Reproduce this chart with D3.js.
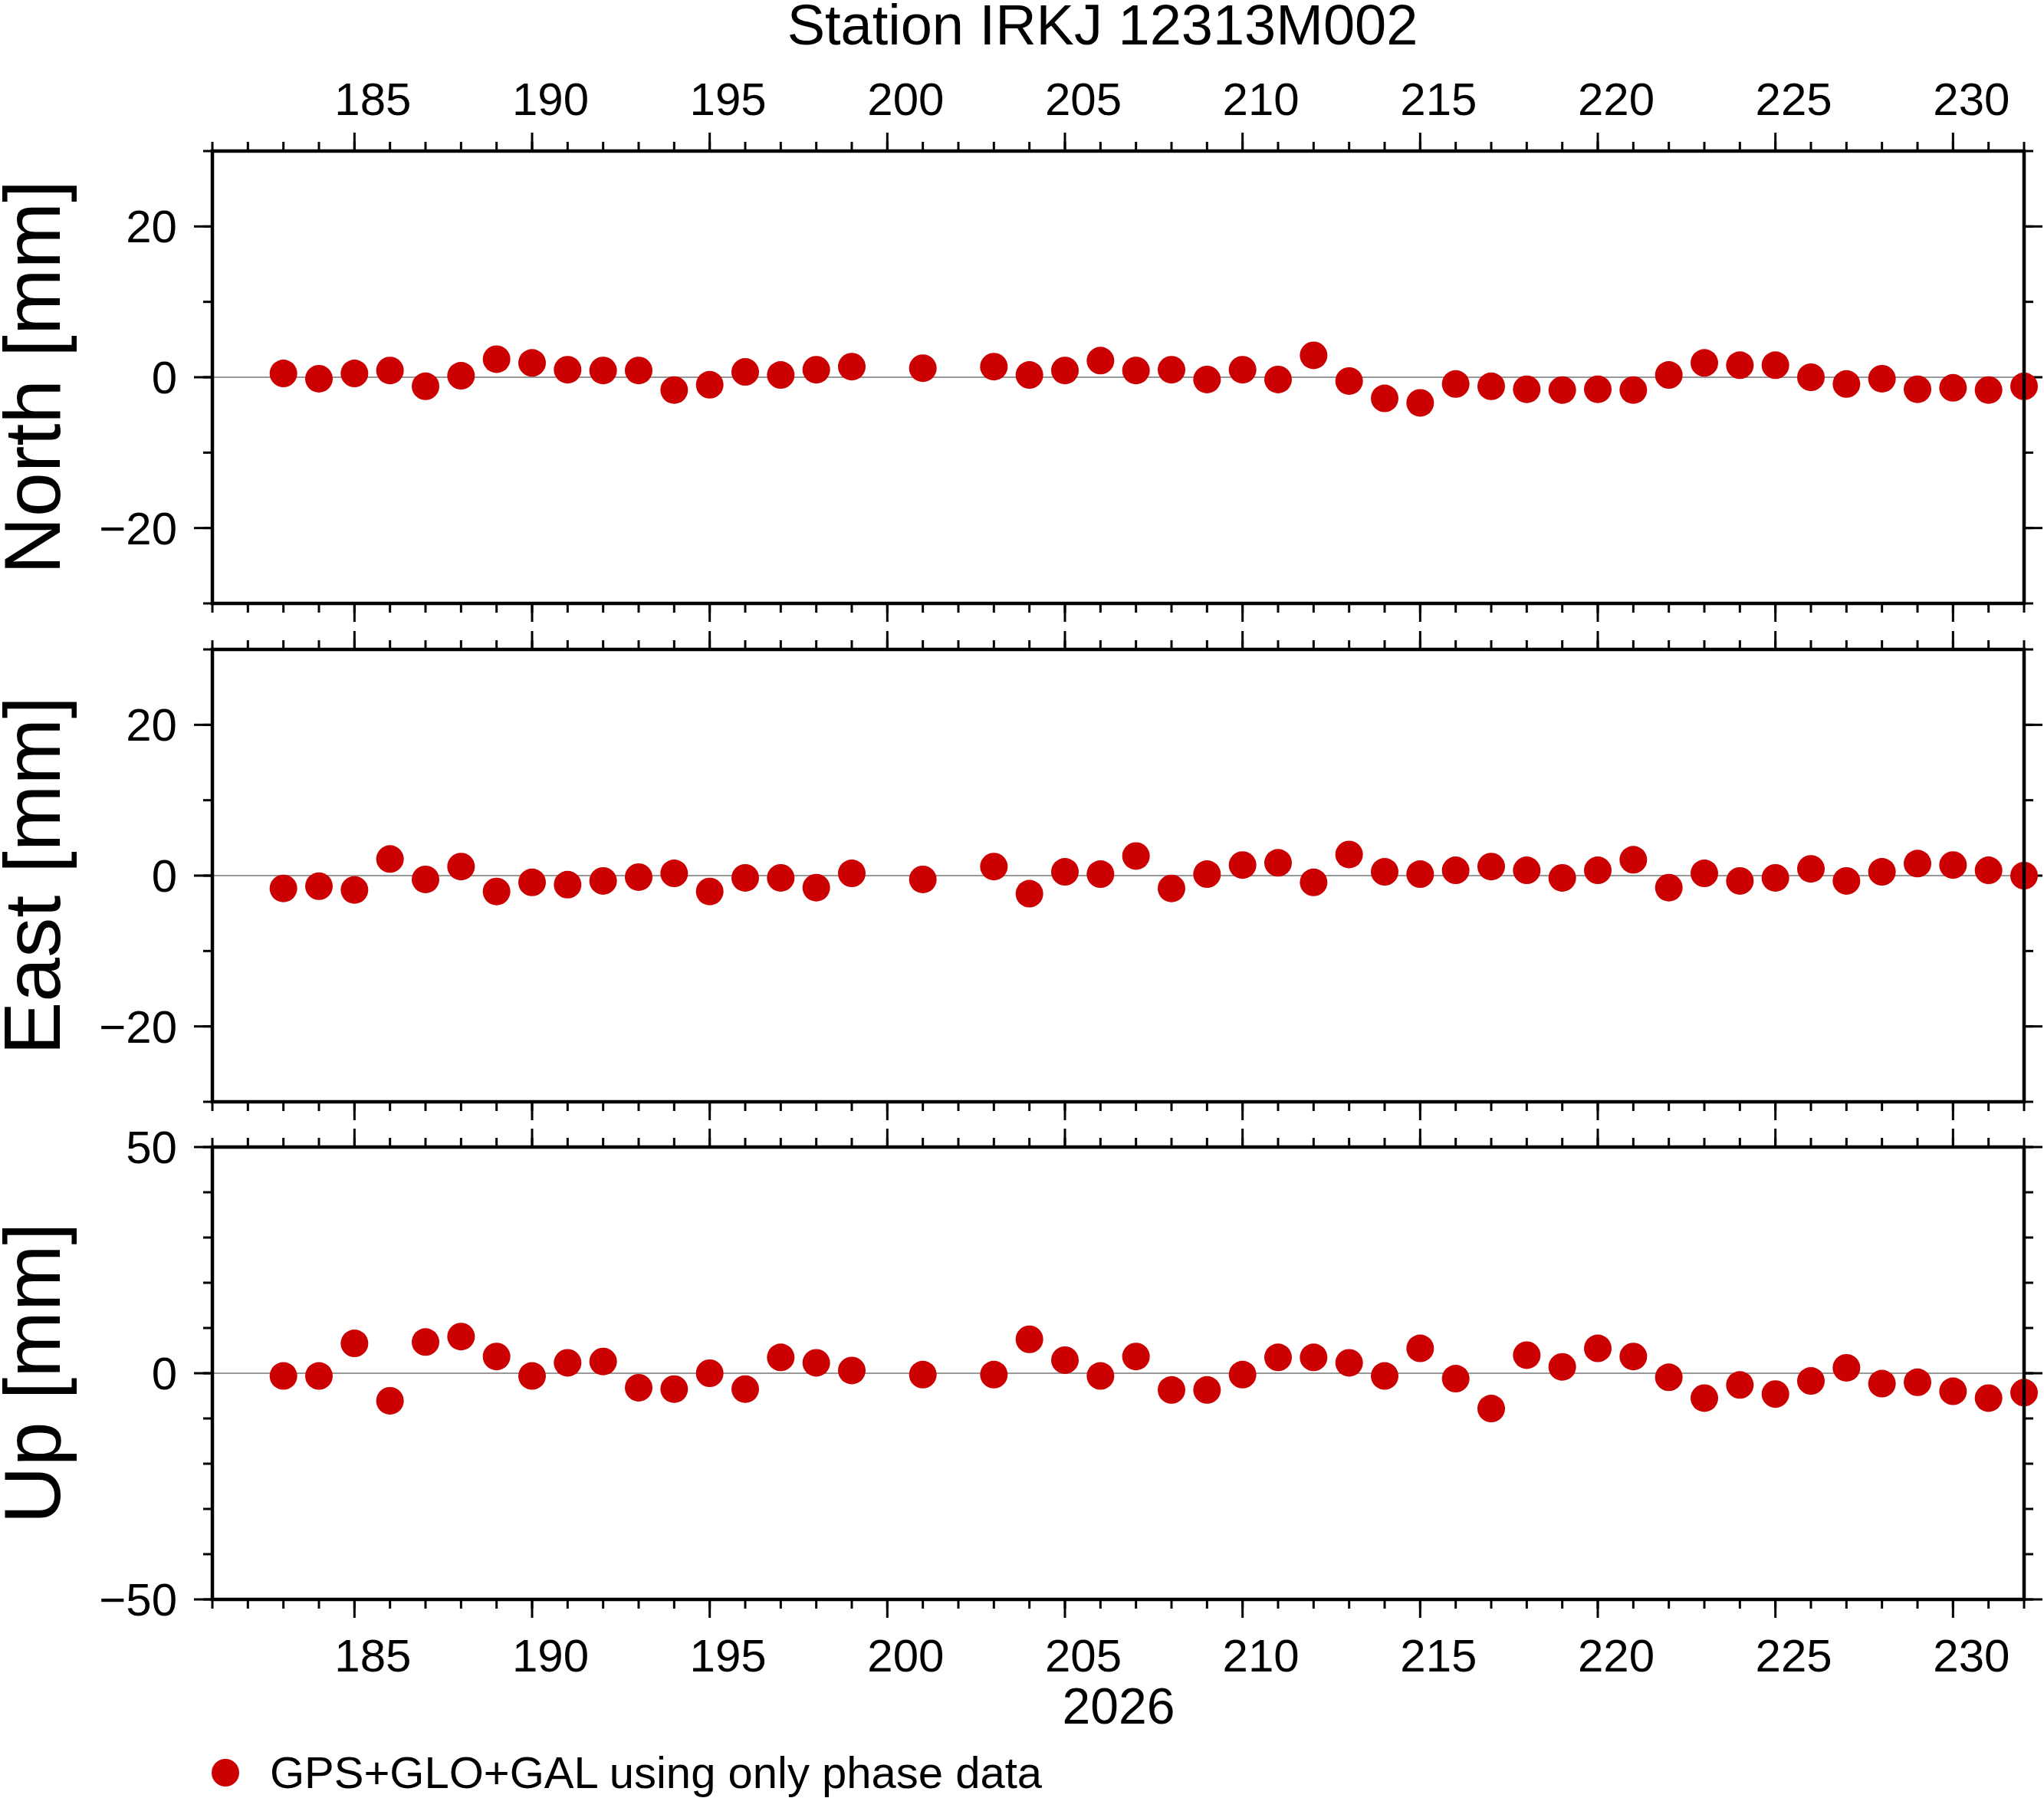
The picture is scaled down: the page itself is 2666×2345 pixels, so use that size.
<!DOCTYPE html>
<html>
<head>
<meta charset="utf-8">
<script src="https://cdn.jsdelivr.net/npm/d3@7"></script>
<style>
  body { margin: 0; background: #fff; }
  text { font-family: "Liberation Sans", Arial, sans-serif; fill: #000; }
</style>
</head>
<body>
<svg id="chart" width="2666" height="2345"></svg>
<script>
// Day of year 2026 for each solution
const days = [183,184,185,186,187,188,189,190,191,192,193,194,195,196,197,198,199,
  201,203,204,205,206,207,208,209,210,211,212,213,214,215,216,217,218,219,220,
  221,222,223,224,225,226,227,228,229,230,231,232];

const north = [0.5,-0.2,0.5,0.9,-1.2,0.2,2.4,1.9,1.0,0.9,0.9,-1.7,-1.0,0.7,0.3,1.0,1.4,
  1.2,1.4,0.3,0.9,2.2,0.9,1.0,-0.3,1.0,-0.3,2.9,-0.5,-2.8,-3.4,-0.9,-1.2,-1.6,-1.7,-1.6,
  -1.7,0.3,1.9,1.6,1.6,0.0,-0.9,-0.2,-1.6,-1.4,-1.7,-1.2];

const east = [-1.7,-1.4,-1.9,2.2,-0.5,1.2,-2.1,-0.9,-1.2,-0.7,-0.2,0.3,-2.1,-0.3,-0.3,-1.6,0.3,
  -0.5,1.2,-2.4,0.5,0.2,2.6,-1.7,0.2,1.4,1.7,-0.9,2.8,0.5,0.2,0.7,1.2,0.7,-0.3,0.7,
  2.1,-1.6,0.3,-0.7,-0.3,0.9,-0.7,0.5,1.6,1.4,0.7,0.0];

const up = [-0.6,-0.6,6.6,-6.1,6.9,8.1,3.7,-0.6,2.3,2.6,-3.2,-3.5,0.0,-3.5,3.5,2.3,0.6,
  -0.3,-0.3,7.5,2.9,-0.6,3.7,-3.7,-3.7,-0.3,3.5,3.5,2.3,-0.6,5.5,-1.2,-7.8,4.0,1.4,5.5,
  3.7,-0.9,-5.5,-2.6,-4.6,-1.7,1.2,-2.3,-2.0,-4.0,-5.5,-4.3];

const panels = [
  { label: "North [mm]", values: north, domain: [-30, 30], major: [-20, 0, 20], minorStep: 10 },
  { label: "East [mm]", values: east, domain: [-30, 30], major: [-20, 0, 20], minorStep: 10 },
  { label: "Up [mm]", values: up, domain: [-50, 50], major: [-50, 0, 50], minorStep: 10 }
];

const xMajor = d3.range(185, 231, 5);
const xMinor = d3.range(181, 233, 1);

const svg = d3.select('#chart');
const left = 277, right = 2640, panelH = 590;
const tops = [197, 847, 1496];
const red = '#cc0000';
const labelShift = 24; // annotations sit a little right of the major tick

const x = d3.scaleLinear().domain([181, 232]).range([left, right]);

svg.append('text')
  .attr('x', 1438).attr('y', 58)
  .attr('text-anchor', 'middle').attr('font-size', 74)
  .text('Station IRKJ 12313M002');

panels.forEach((p, i) => {
  const top = tops[i];
  const y = d3.scaleLinear().domain(p.domain).range([top + panelH, top]);
  const g = svg.append('g');
  const minorY = d3.range(p.domain[0], p.domain[1] + 0.001, p.minorStep);

  // x ticks top and bottom (outward)
  [[top, -1], [top + panelH, 1]].forEach(([yy, dir]) => {
    g.selectAll(null).data(xMinor).join('line')
      .attr('x1', d => x(d)).attr('x2', d => x(d))
      .attr('y1', yy).attr('y2', yy + dir * 12)
      .attr('stroke', '#000').attr('stroke-width', 3);
    g.selectAll(null).data(xMajor).join('line')
      .attr('x1', d => x(d)).attr('x2', d => x(d))
      .attr('y1', yy).attr('y2', yy + dir * 24)
      .attr('stroke', '#000').attr('stroke-width', 3);
  });

  // y ticks left and right
  [[left, -1], [right, 1]].forEach(([xx, dir]) => {
    g.selectAll(null).data(minorY).join('line')
      .attr('x1', xx).attr('x2', xx + dir * 12)
      .attr('y1', d => y(d)).attr('y2', d => y(d))
      .attr('stroke', '#000').attr('stroke-width', 3);
    g.selectAll(null).data(p.major).join('line')
      .attr('x1', xx).attr('x2', xx + dir * 24)
      .attr('y1', d => y(d)).attr('y2', d => y(d))
      .attr('stroke', '#000').attr('stroke-width', 3);
  });

  g.selectAll(null).data(p.major).join('text')
    .attr('x', left - 46).attr('y', d => y(d) + 21)
    .attr('text-anchor', 'end').attr('font-size', 60)
    .text(d => d < 0 ? '\u2212' + Math.abs(d) : d);

  // zero line
  g.append('line')
    .attr('x1', left).attr('x2', right).attr('y1', y(0)).attr('y2', y(0))
    .attr('stroke', '#777').attr('stroke-width', 1.5);

  // y axis title
  g.append('text')
    .attr('transform', `translate(${78},${top + panelH / 2}) rotate(-90)`)
    .attr('text-anchor', 'middle').attr('font-size', 104)
    .text(p.label);

  const clipId = 'clip' + i;
  svg.append('clipPath').attr('id', clipId).append('rect')
    .attr('x', left).attr('y', top).attr('width', right - left + 20).attr('height', panelH);

  g.append('g').attr('clip-path', `url(#${clipId})`)
    .selectAll('circle').data(p.values).join('circle')
    .attr('cx', (d, j) => x(days[j])).attr('cy', d => y(d))
    .attr('r', 18).attr('fill', red);

  g.append('rect')
    .attr('x', left).attr('y', top).attr('width', right - left).attr('height', panelH)
    .attr('fill', 'none').attr('stroke', '#000').attr('stroke-width', 4.5);
});

// x tick labels top and bottom
svg.selectAll('.xt').data(xMajor).join('text')
  .attr('x', d => x(d) + labelShift).attr('y', 150)
  .attr('text-anchor', 'middle').attr('font-size', 60).text(d => d);
svg.selectAll('.xb').data(xMajor).join('text')
  .attr('x', d => x(d) + labelShift).attr('y', 2180)
  .attr('text-anchor', 'middle').attr('font-size', 60).text(d => d);

svg.append('text')
  .attr('x', 1459).attr('y', 2248)
  .attr('text-anchor', 'middle').attr('font-size', 66).text('2026');

// legend
svg.append('circle').attr('cx', 294).attr('cy', 2312).attr('r', 18).attr('fill', red);
svg.append('text').attr('x', 352).attr('y', 2332).attr('font-size', 58)
  .text('GPS+GLO+GAL using only phase data');
</script>
</body>
</html>
